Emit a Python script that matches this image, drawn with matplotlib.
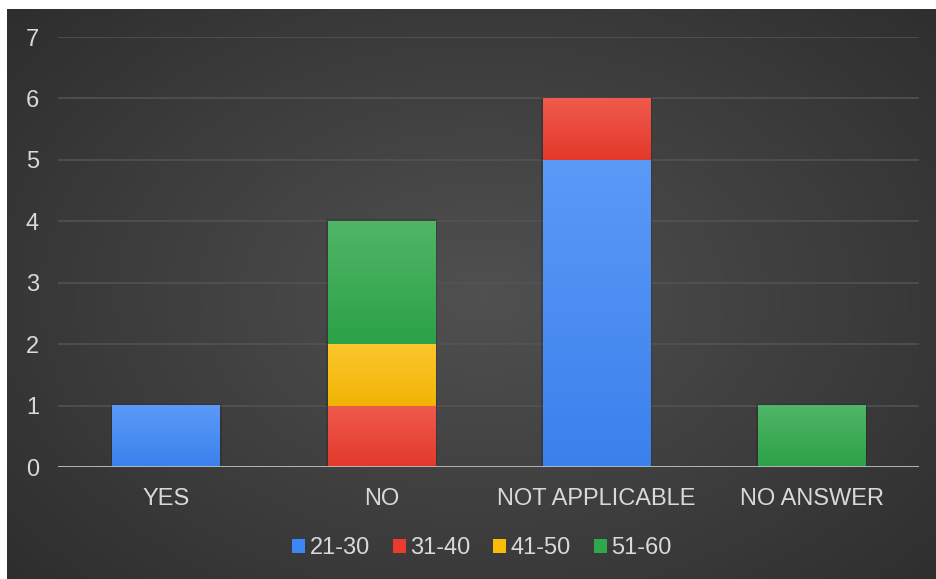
import numpy as np
import matplotlib
matplotlib.use("Agg")
import matplotlib.pyplot as plt
from matplotlib.colors import to_rgb
from matplotlib.patches import Rectangle

categories = ["YES", "NO", "NOT APPLICABLE", "NO ANSWER"]
series_names = ["21-30", "31-40", "41-50", "51-60"]
s_21_30 = [1, 0, 5, 0]
s_31_40 = [0, 1, 1, 0]
s_41_50 = [0, 1, 0, 0]
s_51_60 = [0, 2, 0, 1]
series_values = [s_21_30, s_31_40, s_41_50, s_51_60]
colors = ["#3d86f6", "#ec3b2c", "#fbbc05", "#2ea84a"]
y_ticks = [0, 1, 2, 3, 4, 5, 6, 7]

plt.rcParams['font.family'] = ['Liberation Sans', 'DejaVu Sans']

W, H = 937, 579
fig = plt.figure(figsize=(W / 100, H / 100), dpi=100)
fig.patch.set_facecolor("white")

# background radial gradient
bg = fig.add_axes([7 / W, 0, 1 - 7 / W, 1 - 9 / H])
bg.set_axis_off()
yy, xx = np.mgrid[0:200, 0:320]
cx, cy = 160 * 1.02, 100 * 1.0
d = np.sqrt(((xx - cx) / 200) ** 2 + ((yy - cy) / 140) ** 2)
val = 0.315 - 0.15 * np.clip(d, 0, 1.2) / 1.2
bg.imshow(np.dstack([val, val, val]), aspect="auto", extent=[0, 1, 0, 1],
          interpolation="bilinear")
bg.set_xlim(0, 1)
bg.set_ylim(0, 1)

ax = fig.add_axes([58.5 / W, 1 - 467 / H, 861 / W, 430 / H])
ax.set_facecolor("none")
x = np.arange(len(categories))
bottom = np.zeros(len(categories))
handles = []
for name, vals, col in zip(series_names, series_values, colors):
    vals = np.array(vals, dtype=float)
    bars = ax.bar(x, vals, width=0.5, bottom=bottom, color=col, label=name,
                  zorder=3, linewidth=0)
    base = np.array(to_rgb(col))
    top = base + (1 - base) * 0.16
    bot = base * 0.96
    grad = np.linspace(0, 1, 64)[:, None, None]
    img = top[None, None, :] * (1 - grad) + bot[None, None, :] * grad
    for b in bars:
        h = b.get_height()
        if h <= 0:
            continue
        x0, y0, w = b.get_x(), b.get_y(), b.get_width()
        ax.add_patch(Rectangle((x0 - 0.008, y0), w + 0.016, h + 0.03,
                               facecolor="black", alpha=0.15, linewidth=0, zorder=2.5))
        ax.imshow(np.repeat(img, 4, axis=1), extent=[x0, x0 + w, y0, y0 + h],
                  aspect="auto", zorder=3.5, interpolation="bilinear")
    handles.append(Rectangle((0, 0), 1, 1, facecolor=col))
    bottom += vals

ax.set_xlim(-0.5, len(categories) - 0.5)
ax.set_ylim(0, 7)
ax.set_yticks(y_ticks)
ax.set_xticks(x)
ax.set_xticklabels(categories)
ax.grid(axis="y", color="#545454", linewidth=1.1, zorder=0)
ax.axhline(0, color="#bdbdbd", linewidth=2, zorder=4)
for s in ax.spines.values():
    s.set_visible(False)
ax.tick_params(axis="both", length=0, colors="#d9d9d9", labelsize=17)
ax.tick_params(axis="y", pad=14)
ax.tick_params(axis="x", pad=15)

leg = fig.legend(handles, series_names, loc="center", bbox_to_anchor=(482 / W, 1 - 548 / H),
                 ncol=4, frameon=False, fontsize=17, handlelength=0.55, handleheight=0.55,
                 handletextpad=0.2, columnspacing=0.95, labelcolor="#d9d9d9")

fig.savefig("out.png", dpi=100, facecolor=fig.get_facecolor())
